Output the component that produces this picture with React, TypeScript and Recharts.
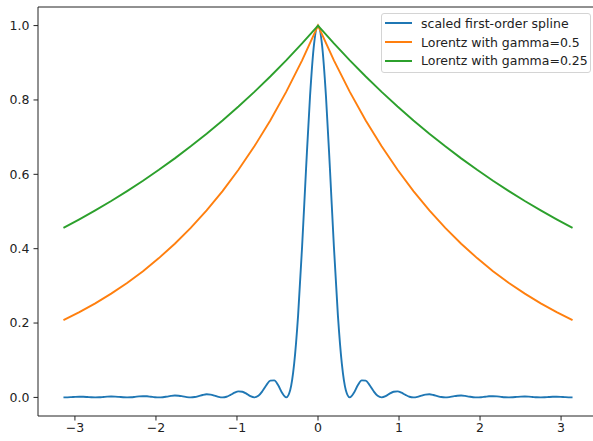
import React from 'react'
import { LineChart, Line, XAxis, YAxis, ReferenceLine } from 'recharts'

const FONT = '"DejaVu Sans", sans-serif'

const SPLINE_X = [
  -3.1416, -3.0925, -3.0434, -2.9943, -2.9452, -2.8962, -2.8471, -2.7980,
  -2.7489, -2.6998, -2.6507, -2.6016, -2.5525, -2.5035, -2.4544, -2.4053,
  -2.3562, -2.3071, -2.2580, -2.2089, -2.1598, -2.1108, -2.0617, -2.0126,
  -1.9635, -1.9144, -1.8653, -1.8162, -1.7671, -1.7181, -1.6690, -1.6199,
  -1.5708, -1.5217, -1.4726, -1.4235, -1.3744, -1.3254, -1.2763, -1.2272,
  -1.1781, -1.1290, -1.0799, -1.0308, -0.9817, -0.9327, -0.8836, -0.8345,
  -0.7854, -0.7363, -0.6872, -0.6381, -0.5890, -0.5400, -0.4909, -0.4418,
  -0.3927, -0.3436, -0.2945, -0.2454, -0.1963, -0.1473, -0.0982, -0.0491,
  0,
  0.0491, 0.0982, 0.1473, 0.1963, 0.2454, 0.2945, 0.3436, 0.3927,
  0.4418, 0.4909, 0.5400, 0.5890, 0.6381, 0.6872, 0.7363, 0.7854,
  0.8345, 0.8836, 0.9327, 0.9817, 1.0308, 1.0799, 1.1290, 1.1781,
  1.2272, 1.2763, 1.3254, 1.3744, 1.4235, 1.4726, 1.5217, 1.5708,
  1.6199, 1.6690, 1.7181, 1.7671, 1.8162, 1.8653, 1.9144, 1.9635,
  2.0126, 2.0617, 2.1108, 2.1598, 2.2089, 2.2580, 2.3071, 2.3562,
  2.4053, 2.4544, 2.5035, 2.5525, 2.6016, 2.6507, 2.6998, 2.7489,
  2.7980, 2.8471, 2.8962, 2.9452, 2.9943, 3.0434, 3.0925, 3.1416,
]

const SPLINE_Y = [
  0, 0.0002, 0.0008, 0.0015, 0.0018, 0.0016, 0.0010, 0.0003,
  0, 0.0003, 0.0011, 0.0020, 0.0024, 0.0021, 0.0013, 0.0004,
  0, 0.0004, 0.0015, 0.0027, 0.0033, 0.0030, 0.0018, 0.0006,
  0, 0.0006, 0.0022, 0.0040, 0.0050, 0.0045, 0.0028, 0.0009,
  0, 0.0010, 0.0036, 0.0066, 0.0083, 0.0076, 0.0048, 0.0015,
  0, 0.0018, 0.0067, 0.0126, 0.0162, 0.0153, 0.0100, 0.0033,
  0, 0.0042, 0.0165, 0.0328, 0.0450, 0.0457, 0.0324, 0.0117,
  0, 0.0194, 0.0901, 0.2214, 0.4053, 0.6150, 0.8106, 0.9496,
  1,
  0.9496, 0.8106, 0.6150, 0.4053, 0.2214, 0.0901, 0.0194, 0,
  0.0117, 0.0324, 0.0457, 0.0450, 0.0328, 0.0165, 0.0042, 0,
  0.0033, 0.0100, 0.0153, 0.0162, 0.0126, 0.0067, 0.0018, 0,
  0.0015, 0.0048, 0.0076, 0.0083, 0.0066, 0.0036, 0.0010, 0,
  0.0009, 0.0028, 0.0045, 0.0050, 0.0040, 0.0022, 0.0006, 0,
  0.0006, 0.0018, 0.0030, 0.0033, 0.0027, 0.0015, 0.0004, 0,
  0.0004, 0.0013, 0.0021, 0.0024, 0.0020, 0.0011, 0.0003, 0,
  0.0003, 0.0010, 0.0016, 0.0018, 0.0015, 0.0008, 0.0002, 0,
]

const LORENTZ_X = [
  -3.1416, -2.9452, -2.7489, -2.5525, -2.3562, -2.1598, -1.9635, -1.7671,
  -1.5708, -1.3744, -1.1781, -0.9817, -0.7854, -0.5890, -0.3927, -0.1963,
  0,
  0.1963, 0.3927, 0.5890, 0.7854, 0.9817, 1.1781, 1.3744, 1.5708,
  1.7671, 1.9635, 2.1598, 2.3562, 2.5525, 2.7489, 2.9452, 3.1416,
]

const LORENTZ_05 = [
  0.2079, 0.2293, 0.2530, 0.2791, 0.3079, 0.3396, 0.3747, 0.4133,
  0.4559, 0.5030, 0.5549, 0.6121, 0.6752, 0.7449, 0.8217, 0.9065,
  1,
  0.9065, 0.8217, 0.7449, 0.6752, 0.6121, 0.5549, 0.5030, 0.4559,
  0.4133, 0.3747, 0.3396, 0.3079, 0.2791, 0.2530, 0.2293, 0.2079,
]

const LORENTZ_025 = [
  0.4559, 0.4789, 0.5030, 0.5283, 0.5549, 0.5828, 0.6121, 0.6429,
  0.6752, 0.7092, 0.7449, 0.7824, 0.8217, 0.8631, 0.9065, 0.9521,
  1,
  0.9521, 0.9065, 0.8631, 0.8217, 0.7824, 0.7449, 0.7092, 0.6752,
  0.6429, 0.6121, 0.5828, 0.5549, 0.5283, 0.5030, 0.4789, 0.4559,
]

const X_TICKS = [-3, -2, -1, 0, 1, 2, 3]
const Y_TICKS = [0, 0.2, 0.4, 0.6, 0.8, 1.0]

const SERIES_NAMES = ['scaled first-order spline', 'Lorentz with gamma=0.5', 'Lorentz with gamma=0.25']
const COLORS = ['#1f77b4', '#ff7f0e', '#2ca02c']

const splineData = SPLINE_X.map((x, i) => ({ x, y: SPLINE_Y[i] }))
const lorentzHalf = LORENTZ_X.map((x, i) => ({ x, y: LORENTZ_05[i] }))
const lorentzQuarter = LORENTZ_X.map((x, i) => ({ x, y: LORENTZ_025[i] }))

const X_LIM = 3.4558
const Y_MIN = -0.05
const Y_MAX = 1.05
const INK = '#222'

const fmtX = (v: number) => (v < 0 ? '\u2212' + Math.abs(v) : String(v))
const fmtY = (v: number) => v.toFixed(1)

// matplotlib-ish legend box, sits in the upper right corner of the axes
function LegendBox() {
  return (
    <div
      style={{
        position: 'absolute',
        left: 381,
        top: 13,
        width: 210,
        boxSizing: 'border-box',
        border: '1px solid #d4d4d4',
        borderRadius: 3,
        background: 'rgba(255,255,255,0.8)',
        padding: '0 4px 2px 3px',
        fontFamily: FONT,
        fontSize: 12.5,
        color: INK,
      }}
    >
      {SERIES_NAMES.map((name, i) => (
        <div key={name} style={{ display: 'flex', alignItems: 'center', height: 18.7, whiteSpace: 'nowrap' }}>
          <svg width={27} height={4} style={{ marginRight: 9, flexShrink: 0 }}>
            <line x1={0} y1={2} x2={27} y2={2} stroke={COLORS[i]} strokeWidth={2} />
          </svg>
          <span>{name}</span>
        </div>
      ))}
    </div>
  )
}

export default function App() {
  const tickStyle = { fontFamily: FONT, fontSize: 12.5, fill: INK }
  return (
    <div style={{ position: 'absolute', left: 0, top: 0, width: 593, height: 441, overflow: 'hidden', background: '#fff' }}>
      <LineChart width={600} height={441} margin={{ top: 7, right: 2, bottom: 0, left: 0 }}>
        <XAxis
          dataKey="x"
          type="number"
          domain={[-X_LIM, X_LIM]}
          allowDataOverflow
          ticks={X_TICKS}
          tickFormatter={fmtX}
          tick={tickStyle}
          tickSize={4.5}
          tickMargin={3}
          height={25}
          stroke={INK}
        />
        <YAxis
          type="number"
          domain={[Y_MIN, Y_MAX]}
          allowDataOverflow
          ticks={Y_TICKS}
          tickFormatter={fmtY}
          tick={tickStyle}
          tickSize={4.5}
          tickMargin={4}
          width={38}
          stroke={INK}
        />
        <ReferenceLine y={Y_MAX} stroke={INK} />
        <Line data={splineData} dataKey="y" type="monotone" stroke={COLORS[0]} strokeWidth={1.9} dot={false} isAnimationActive={false} />
        <Line data={lorentzHalf} dataKey="y" type="linear" stroke={COLORS[1]} strokeWidth={1.9} dot={false} isAnimationActive={false} />
        <Line data={lorentzQuarter} dataKey="y" type="linear" stroke={COLORS[2]} strokeWidth={1.9} dot={false} isAnimationActive={false} />
      </LineChart>
      {/* plot's right spine lies outside the window in the reference; keep that strip clean */}
      <div style={{ position: 'absolute', left: 586, top: 8, width: 7, height: 407, background: '#fff' }} />
      <LegendBox />
    </div>
  )
}
